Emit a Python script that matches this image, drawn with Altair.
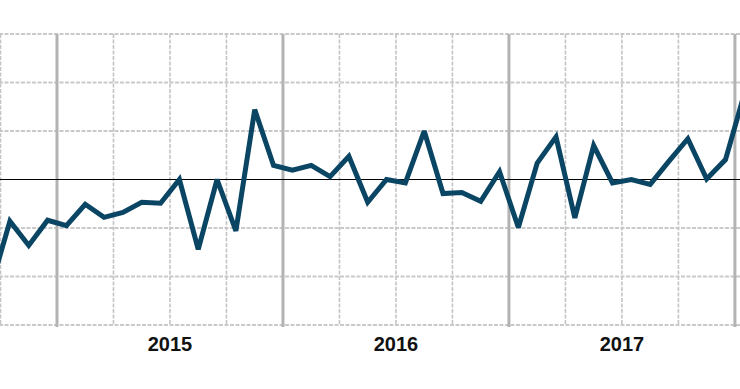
import altair as alt
import pandas as pd

# Monthly series (Sep 2014 .. Jan 2018) (grid unit = 1)
months = ["2014-09", "2014-10", "2014-11", "2014-12",
          "2015-01", "2015-02", "2015-03", "2015-04", "2015-05", "2015-06",
          "2015-07", "2015-08", "2015-09", "2015-10", "2015-11", "2015-12",
          "2016-01", "2016-02", "2016-03", "2016-04", "2016-05", "2016-06",
          "2016-07", "2016-08", "2016-09", "2016-10", "2016-11", "2016-12",
          "2017-01", "2017-02", "2017-03", "2017-04", "2017-05", "2017-06",
          "2017-07", "2017-08", "2017-09", "2017-10", "2017-11", "2017-12",
          "2018-01"]
values = [-2.2, -0.86, -1.36, -0.84,
          -0.95, -0.51, -0.78, -0.68, -0.47, -0.49,
          0.0, -1.44, 0.0, -1.06, 1.44, 0.29,
          0.19, 0.29, 0.06, 0.48, -0.47, 0.0,
          -0.07, 1.0, -0.29, -0.27, -0.45, 0.16,
          -0.99, 0.34, 0.88, -0.79, 0.70, -0.07,
          0.0, -0.1, 0.38, 0.84, 0.01, 0.41,
          1.77]

year_labels = ["2015", "2016", "2017"]
year_starts = ["2015-01", "2016-01", "2017-01", "2018-01"]
quarter_starts = ["2014-10", "2015-04", "2015-07", "2015-10", "2016-04", "2016-07",
                  "2016-10", "2017-04", "2017-07", "2017-10"]
h_grid = [-3, -2, -1, 1, 2, 3]


def month_index(s):
    y, m = s.split("-")
    return (int(y) - 2014) * 12 + (int(m) - 10)


series = pd.DataFrame({"month": months, "value": values})
series["t"] = [month_index(m) + 0.5 for m in months]

years_df = pd.DataFrame({"t": [month_index(s) for s in year_starts]})
quarters_df = pd.DataFrame({"t": [month_index(s) for s in quarter_starts]})
labels_df = pd.DataFrame({"label": year_labels,
                          "t": [month_index(y + "-01") + 6 for y in year_labels]})
hgrid_df = pd.DataFrame({"v": h_grid})

xscale = alt.Scale(domain=[-0.0265, 39.27], nice=False, zero=False)
yscale = alt.Scale(domain=[-3, 3], nice=False, zero=False)

grid_color = "#c9c9c9"

hgrid = alt.Chart(hgrid_df).mark_rule(color=grid_color, strokeWidth=2, strokeDash=[4, 1.5]).encode(
    y=alt.Y("v:Q", scale=yscale, axis=None)
)

qgrid = alt.Chart(quarters_df).mark_rule(color="#c4c4c4", strokeWidth=1.6, strokeDash=[4, 1.5]).encode(
    x=alt.X("t:Q", scale=xscale, axis=None)
)

ygrid = alt.Chart(years_df).mark_rule(color="#b3b3b3", strokeWidth=3).encode(
    x=alt.X("t:Q", scale=xscale, axis=None),
    y=alt.value(0),
    y2=alt.value(293),
)

zero = alt.Chart(pd.DataFrame({"v": [0]})).mark_rule(color="#000000", strokeWidth=1.2).encode(
    y=alt.Y("v:Q", scale=yscale, axis=None)
)

line = alt.Chart(series).mark_line(color="#0b4564", strokeWidth=5, clip=True,
                                   strokeJoin="miter", strokeMiterLimit=3).encode(
    x=alt.X("t:Q", scale=xscale, axis=None),
    y=alt.Y("value:Q", scale=yscale, axis=None),
    order="t:Q",
)

labels = alt.Chart(labels_df).mark_text(font="Liberation Sans", fontWeight="bold", fontSize=20,
                                        color="#111111", align="center", baseline="middle").encode(
    x=alt.X("t:Q", scale=xscale, axis=None),
    y=alt.value(311),
    text="label:N",
)

chart = alt.layer(hgrid, qgrid, ygrid, zero, line, labels).properties(
    width=740,
    height=291,
    padding={"left": 0, "top": 34, "right": 0, "bottom": 64},
    autosize=alt.AutoSizeParams(type="none"),
    background="white",
).configure_view(stroke=None)

chart.save("out.html", embed_options={"renderer": "svg", "actions": False})
